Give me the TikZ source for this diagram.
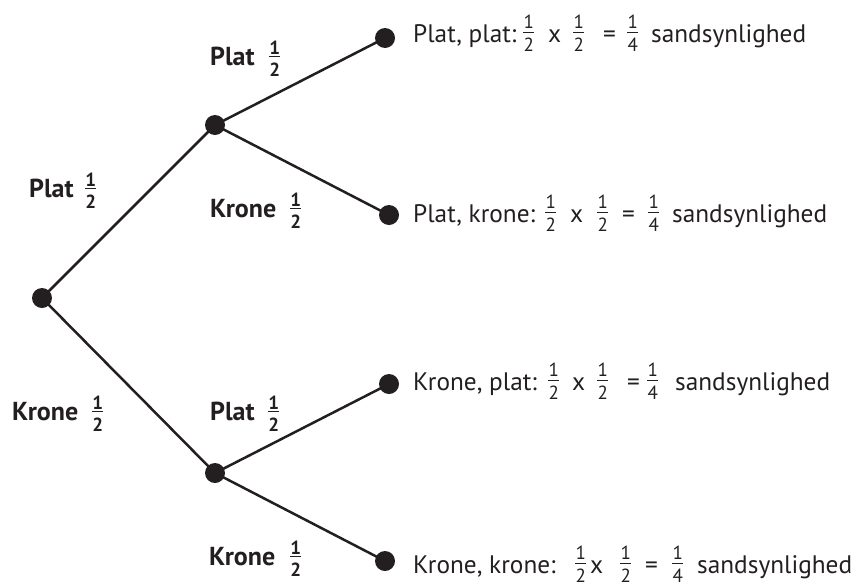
\documentclass[tikz,border=0pt]{standalone}
\usepackage{fontspec}
\setmainfont{PT Sans}
\definecolor{ink}{HTML}{231F20}
\newcommand\frbase[5]{\makebox[11pt][c]{\raisebox{#1}{\fontsize{19}{19}\selectfont #4}}\hspace{-11pt}\rule[#2]{11pt}{0.9pt}\hspace{-11pt}\makebox[11pt][c]{\raisebox{#3}{\fontsize{19}{19}\selectfont #5}}}
\newcommand\lfr[2]{\frbase{13.5pt}{9pt}{-9.5pt}{#1}{#2}}
\newcommand\bfr[2]{\frbase{10.5pt}{8pt}{-11pt}{#1}{#2}}
\newcommand\pc[2]{\makebox[#1pt][l]{#2}}
\tikzset{
  dot/.style={circle,fill=ink,draw=none,minimum size=20pt,inner sep=0pt},
  branch/.style={draw=ink,line width=2.5pt},
  leaftext/.style={anchor=base west,inner sep=0pt,text=ink,font=\fontsize{25.3}{26}\selectfont},
  problabel/.style={anchor=base west,inner sep=0pt,text=ink,font=\fontsize{26}{26}\selectfont\bfseries}
}
\begin{document}
\begin{tikzpicture}[x=1pt,y=-1pt]
\useasboundingbox (0,0) rectangle (861,581);
% dots
\node[dot] (r) at (42,298) {};
\node[dot] (a) at (215,125) {};
\node[dot] (b) at (215,473) {};
\node[dot] (a1) at (385,38) {};
\node[dot] (a2) at (389,215) {};
\node[dot] (b1) at (389,384) {};
\node[dot] (b2) at (385,561) {};
% branches
\draw[branch] (r.center) -- (a.center);
\draw[branch] (r.center) -- (b.center);
\draw[branch] (a.center) -- (a1.center);
\draw[branch] (a.center) -- (a2.center);
\draw[branch] (b.center) -- (b1.center);
\draw[branch] (b.center) -- (b2.center);
% branch labels
\node[problabel] (l1) at (210,65) {\pc{59}{Plat}\bfr12};
\node[problabel] (l2) at (210,217) {\pc{80}{Krone}\bfr12};
\node[problabel] (l3) at (29,197) {\pc{56}{Plat}\bfr12};
\node[problabel] (l4) at (12,420) {\pc{80}{Krone}\bfr12};
\node[problabel] (l5) at (210,420) {\pc{58}{Plat}\bfr12};
\node[problabel] (l6) at (209,565) {\pc{81}{Krone}\bfr12};
% outcome texts
\node[leaftext] (t1) at (413,42) {\pc{110}{Plat, plat:}\pc{25}{\lfr12}\pc{25}{x}\pc{30}{\lfr12}\pc{24}{=}\pc{24}{\lfr14}sandsynlighed};
\node[leaftext] (t2) at (413,222) {\pc{132}{Plat, krone:}\pc{25}{\lfr12}\pc{27}{x}\pc{25}{\lfr12}\pc{26}{=}\pc{24}{\lfr14}sandsynlighed};
\node[leaftext] (t3) at (413,390) {\pc{135}{Krone, plat:}\pc{24}{\lfr12}\pc{25}{x}\pc{30}{\lfr12}\pc{20}{=}\pc{28}{\lfr14}sandsynlighed};
\node[leaftext] (t4) at (413,573) {\pc{162}{Krone, krone:}\pc{15}{\lfr12}\pc{30}{x}\pc{25}{\lfr12}\pc{27}{=}\pc{25}{\lfr14}sandsynlighed};
\end{tikzpicture}
\end{document}
